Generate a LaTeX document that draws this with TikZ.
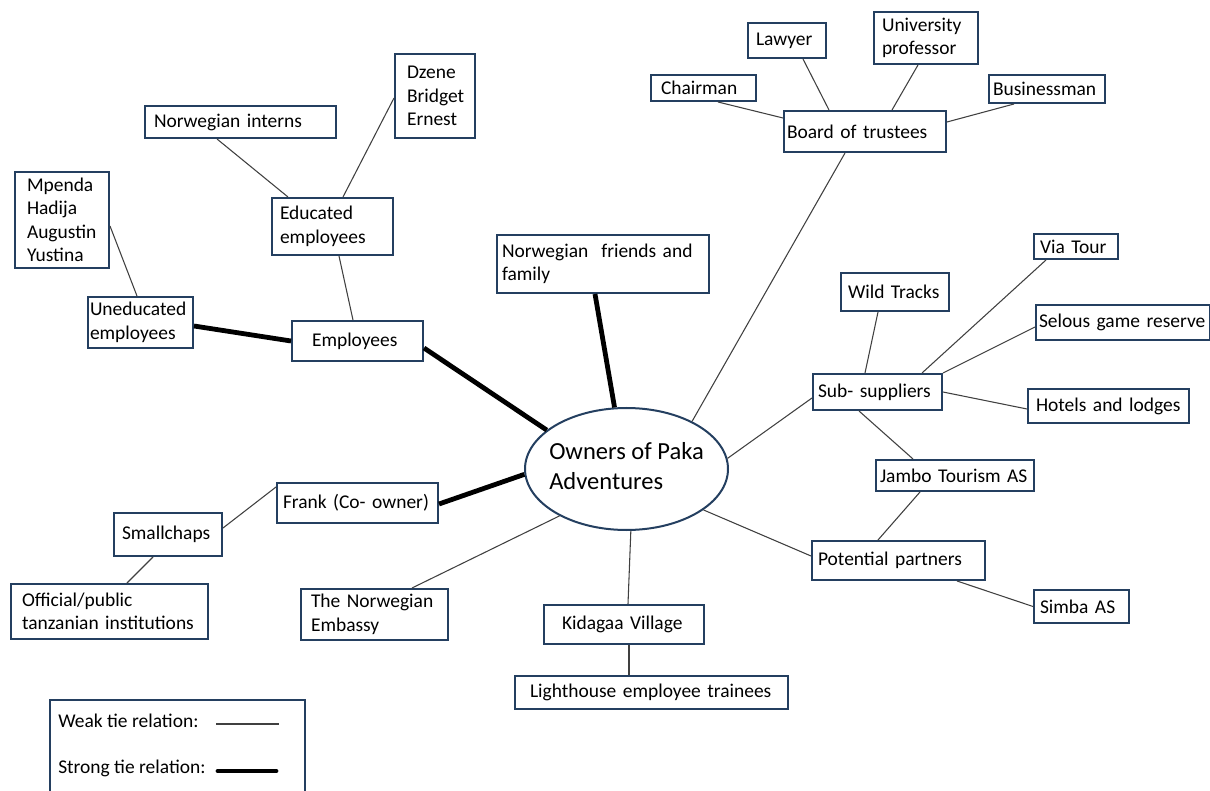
\documentclass[tikz,border=0pt]{standalone}
\usepackage{fontspec}
\setmainfont{Carlito}
\usetikzlibrary{calc,shapes.geometric}
\definecolor{boxc}{RGB}{36,63,96}
\definecolor{weakc}{RGB}{64,64,64}
\newcommand\boxfont{\fontsize{14.6}{17.6}\selectfont}
\newcommand\ownfont{\fontsize{18.4}{22.5}\selectfont}
\tikzset{
  box/.style={draw=boxc, line width=1.5pt, fill=white, font=\boxfont, align=left, inner sep=0pt, anchor=north west},
  wh/.code n args={3}{%
    \pgfmathsetmacro\whbw{#1*0.75}%
    \pgfmathsetmacro\whbh{#2*0.75}%
    \pgfmathsetmacro\whtw{(#1-2*#3)*0.75}%
    \edef\whtmp{\noexpand\pgfkeysalso{minimum width=\whbw pt,minimum height=\whbh pt,text width=\whtw pt}}\whtmp},
  ownst/.style={ellipse, draw=boxc, line width=1.5pt, fill=white, inner sep=0pt, minimum width=152.25pt, minimum height=91.5pt, font=\ownfont},
  weak/.style={draw=weakc, line width=0.8pt},
  strong/.style={draw=black, line width=3.6pt},
  lgtext/.style={font=\boxfont, inner sep=0pt, anchor=west}
}
\begin{document}
\begin{tikzpicture}[x=0.75pt, y=-0.75pt]
\useasboundingbox (0,0) rectangle (1210,791);
% central node
\node[ownst] (own) at (626.5,469) {\makebox[0pt]{\begin{tabular}{@{}l@{}}Owners of Paka\\Adventures\end{tabular}}};
% boxes
\node[box, wh={191}{32}{9}] (ni) at (144,105) {Norwegian interns};
\node[box, wh={80}{84}{12}] (dz) at (394,53) {Dzene\\Bridget\\Ernest};
\node[box, wh={94}{96}{12}] (mp) at (14,171) {Mpenda\\Hadija\\Augustin\\Yustina};
\node[box, wh={121}{57}{8}] (ed) at (271,197) {Educated\\employees};
\node[box, wh={105}{51}{2}] (un) at (87,296) {Uneducated\\employees};
\node[box, wh={131}{40}{20}] (em) at (291,320) {Employees};
\node[box, wh={212}{58}{5}] (nf) at (496,234) {Norwegian~ friends and\\family};
\node[box, wh={105}{26}{10}] (ch) at (650,74) {Chairman};
\node[box, wh={78}{35}{8}] (lw) at (747,22) {Lawyer};
\node[box, wh={104}{52}{8}] (up) at (873,11) {University\\professor};
\node[box, wh={116}{28}{4}] (bm) at (988,74) {Businessman};
\node[box, wh={162}{41}{3}] (bt) at (783,110) {Board of trustees};
\node[box, wh={84}{25}{6}] (vt) at (1033,233) {Via Tour};
\node[box, wh={108}{38}{7}] (wt) at (840,272) {Wild Tracks};
\node[box, wh={174}{35}{3}] (se) at (1035,304) {Selous game reserve};
\node[box, wh={129}{36}{5}] (ss) at (812,373) {Sub- suppliers};
\node[box, wh={161}{34}{8}] (hl) at (1027,388) {Hotels and lodges};
\node[box, wh={158}{31}{4}] (jt) at (875,459) {Jambo Tourism AS};
\node[box, wh={173}{39}{6}] (pp) at (811,540) {Potential partners};
\node[box, wh={95}{33}{6}] (sa) at (1033,589) {Simba AS};
\node[box, wh={160}{39}{18}] (kv) at (543,604) {Kidagaa Village};
\node[box, wh={273}{33}{15}] (lh) at (514,675) {Lighthouse employee trainees};
\node[box, wh={161}{40}{6}] (fr) at (276,482) {Frank (Co- owner)};
\node[box, wh={108}{43}{8}] (sc) at (113,512) {Smallchaps};
\node[box, wh={197}{55}{11}] (op) at (10,583) {Official/public\\tanzanian institutions};
\node[box, wh={147}{51}{10}] (ne) at (300,588) {The Norwegian\\Embassy};
% legend
\node[box, wh={255}{110}{0}] (lg) at (49,699) {};
\node[lgtext] (lgw) at (58,721) {Weak tie relation:};
\node[lgtext] (lgs) at (58,768) {Strong tie relation:};
\coordinate (lgwa) at (216,724);
\coordinate (lgwb) at (279,724);
\coordinate (lgsa) at (218,771);
\coordinate (lgsb) at (276,771);
\draw[weak] (lgwa) -- (lgwb);
\draw[strong, line cap=round] (lgsa) -- (lgsb);
% connectors
\draw[weak] ($(ni.south west)+(73,0)$) -- ($(ed.north west)+(17,0)$);
\draw[weak] ($(dz.west)+(0,2)$) -- ($(ed.north west)+(72,0)$);
\draw[weak] ($(mp.east)+(0,6)$) -- ($(un.north west)+(50,0)$);
\draw[weak] ($(ed.south west)+(68,0)$) -- ($(em.north west)+(62,0)$);
\draw[strong] ($(un.east)+(0,3.5)$) -- (em.west);
\draw[strong] ($(em.east)+(0,7)$) -- (own.154);
\draw[strong] ($(nf.south west)+(99,0)$) -- (own.101);
\draw[strong] ($(fr.east)+(0,1)$) -- (own.183);
\draw[weak] ($(ch.south west)+(68,0)$) -- ($(bt.north west)+(0,8)$);
\draw[weak] ($(lw.south west)+(56,0)$) -- ($(bt.north west)+(46,0)$);
\draw[weak] ($(up.south west)+(45,0)$) -- ($(bt.north west)+(109,0)$);
\draw[weak] ($(bm.south west)+(26,0)$) -- ($(bt.north east)+(0,12)$);
\draw[weak] ($(bt.south west)+(62,0)$) -- (own.36);
\draw[weak] (own.6) -- ($(ss.west)+(0,6)$);
\draw[weak] ($(wt.south west)+(38,0)$) -- ($(ss.north west)+(53,0)$);
\draw[weak] ($(vt.south west)+(13,0)$) -- ($(ss.north west)+(110,0)$);
\draw[weak] ($(se.north west)+(0,23)$) -- (ss.north east);
\draw[weak] (ss.east) -- ($(hl.west)+(0,3)$);
\draw[weak] ($(ss.south west)+(47,0)$) -- ($(jt.north west)+(38,0)$);
\draw[weak] ($(jt.south west)+(45,0)$) -- ($(pp.north west)+(67,0)$);
\draw[weak] (own.332) -- ($(pp.west)+(0,-4.5)$);
\draw[weak] ($(pp.south west)+(146,0)$) -- (sa.west);
\draw[weak] (own.274) -- ($(kv.north west)+(85,0)$);
\draw[weak] ($(kv.south west)+(86,0)$) -- ($(lh.north west)+(115,0)$);
\draw[weak] (own.215) -- ($(ne.north west)+(112,0)$);
\draw[weak] ($(fr.north west)+(0,5)$) -- ($(sc.east)+(0,-6.5)$);
\draw[weak] ($(sc.south west)+(40,0)$) -- ($(op.north west)+(117,0)$);
\end{tikzpicture}
\end{document}
